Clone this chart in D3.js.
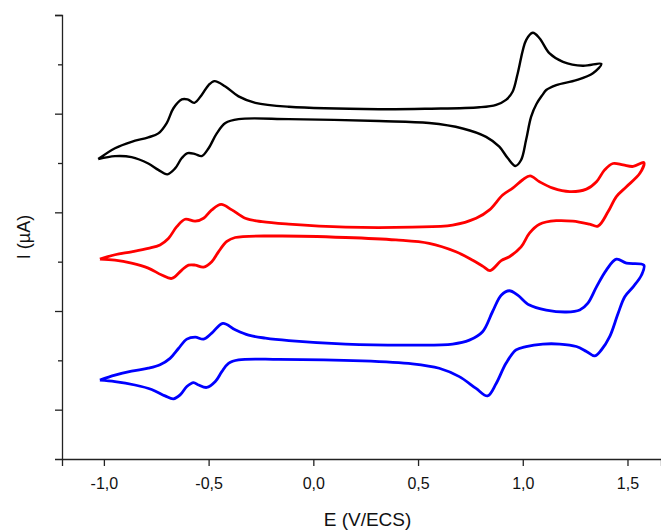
<!DOCTYPE html>
<html>
<head>
<meta charset="utf-8">
<script src="https://cdn.jsdelivr.net/npm/d3@7"></script>
<style>
  html, body { margin: 0; padding: 0; background: #fff; }
  svg { display: block; font-family: "Liberation Sans", Arial, sans-serif; }
</style>
</head>
<body>
<svg id="chart" width="661" height="530"></svg>
<script>
// ---- Data (E in V vs ECS, I in arbitrary µA units, curves offset vertically) ----
const xTicks = [-1.0, -0.5, 0.0, 0.5, 1.0, 1.5];
const yMajorTicks = [1, 3, 5, 7, 9];
const yMinorTicks = [2, 4, 6, 8];

// Black voltammogram: [E, I] loop (forward sweep then reverse)
const blackForward = [
  [-1.027,6.08],[-0.947,6.30],[-0.868,6.43],[-0.788,6.52],[-0.740,6.60],[-0.700,6.81],
  [-0.668,7.11],[-0.628,7.29],[-0.601,7.29],[-0.568,7.22],[-0.533,7.38],[-0.500,7.58],
  [-0.472,7.66],[-0.420,7.55],[-0.357,7.35],[-0.277,7.22],[-0.117,7.14],[0.314,7.09],
  [0.553,7.10],[0.793,7.13],[0.873,7.18],[0.920,7.28],[0.952,7.45],[0.976,7.82],
  [1.016,8.49],[1.048,8.64],[1.080,8.53],[1.128,8.22],[1.192,8.05],[1.287,7.97],[1.375,8.01]
];
const blackReverse = [
  [1.335,7.82],[1.256,7.68],[1.160,7.58],[1.112,7.48],[1.094,7.38],[1.066,7.20],
  [1.040,6.94],[1.016,6.47],[0.992,6.06],[0.965,5.94],[0.928,6.10],[0.888,6.33],
  [0.825,6.53],[0.713,6.70],[0.553,6.81],[0.314,6.85],[-0.117,6.89],[-0.357,6.89],
  [-0.420,6.81],[-0.461,6.60],[-0.500,6.30],[-0.533,6.14],[-0.564,6.18],[-0.600,6.20],
  [-0.628,6.10],[-0.660,5.89],[-0.697,5.77],[-0.740,5.86],[-0.788,5.99],[-0.868,6.12],
  [-0.947,6.14],[-1.027,6.08]
];

// Red voltammogram
const redForward = [
  [-1.019,4.05],[-0.947,4.14],[-0.868,4.20],[-0.788,4.27],[-0.732,4.34],[-0.692,4.47],
  [-0.652,4.71],[-0.612,4.86],[-0.564,4.82],[-0.524,4.88],[-0.485,5.05],[-0.440,5.16],
  [-0.389,5.05],[-0.325,4.88],[-0.245,4.81],[-0.117,4.76],[0.154,4.70],[0.473,4.70],
  [0.665,4.74],[0.777,4.88],[0.841,5.05],[0.904,5.35],[0.952,5.49],[1.000,5.66],
  [1.035,5.74],[1.080,5.62],[1.144,5.49],[1.224,5.42],[1.304,5.47],[1.352,5.62],
  [1.391,5.86],[1.431,5.99],[1.479,5.96],[1.527,5.93],[1.578,6.01]
];
const redReverse = [
  [1.559,5.79],[1.495,5.52],[1.447,5.32],[1.407,5.01],[1.359,4.72],[1.319,4.76],
  [1.239,4.82],[1.160,4.83],[1.080,4.76],[1.032,4.58],[0.992,4.30],[0.936,4.10],
  [0.897,4.02],[0.844,3.82],[0.812,3.90],[0.761,4.03],[0.681,4.20],[0.553,4.37],
  [0.394,4.44],[0.154,4.49],[-0.165,4.52],[-0.373,4.49],[-0.413,4.41],[-0.453,4.20],
  [-0.485,4.00],[-0.524,3.89],[-0.564,3.93],[-0.596,3.93],[-0.628,3.83],[-0.676,3.66],
  [-0.724,3.73],[-0.788,3.87],[-0.868,3.97],[-0.947,4.03],[-1.019,4.05]
];

// Blue voltammogram
const blueForward = [
  [-1.019,1.60],[-0.947,1.70],[-0.868,1.78],[-0.788,1.84],[-0.732,1.91],[-0.684,2.04],
  [-0.644,2.24],[-0.604,2.43],[-0.564,2.47],[-0.524,2.43],[-0.485,2.55],[-0.432,2.75],
  [-0.373,2.62],[-0.309,2.51],[-0.229,2.45],[-0.117,2.40],[0.154,2.33],[0.473,2.31],
  [0.665,2.33],[0.745,2.41],[0.808,2.58],[0.856,2.99],[0.897,3.32],[0.936,3.41],
  [0.976,3.32],[1.032,3.12],[1.112,3.02],[1.208,2.98],[1.272,3.02],[1.311,3.16],
  [1.352,3.49],[1.399,3.83],[1.447,4.05],[1.495,3.97],[1.578,3.93]
];
const blueReverse = [
  [1.567,3.73],[1.527,3.49],[1.487,3.29],[1.455,2.95],[1.415,2.48],[1.375,2.21],
  [1.343,2.09],[1.304,2.18],[1.256,2.28],[1.176,2.33],[1.096,2.33],[1.016,2.28],
  [0.968,2.21],[0.920,1.94],[0.873,1.53],[0.832,1.28],[0.777,1.43],[0.697,1.67],
  [0.601,1.84],[0.473,1.93],[0.234,1.99],[-0.165,2.02],[-0.357,2.01],[-0.405,1.94],
  [-0.437,1.77],[-0.468,1.57],[-0.509,1.45],[-0.548,1.50],[-0.572,1.55],[-0.604,1.47],
  [-0.636,1.30],[-0.668,1.22],[-0.708,1.28],[-0.772,1.41],[-0.852,1.50],[-0.947,1.57],
  [-1.019,1.60]
];

const series = [
  { name: "black", color: "#000000", width: 2.4, pts: blackForward.concat(blackReverse) },
  { name: "red",   color: "#ff0000", width: 2.8, pts: redForward.concat(redReverse) },
  { name: "blue",  color: "#0000ff", width: 2.8, pts: blueForward.concat(blueReverse) }
];

// ---- Layout ----
const svg = d3.select("#chart");
const mLeft = 62, mRight = 661, mTop = 15, mBottom = 459;

const x = d3.scaleLinear().domain([-1.2, 1.66]).range([mLeft, mRight]);
const y = d3.scaleLinear().domain([0, 9]).range([mBottom, mTop]);

const fmt = d => d3.format(".1f")(d).replace("−", "-").replace(".", ",");

// Curves
const line = d3.line()
  .x(d => x(d[0])).y(d => y(d[1]))
  .curve(d3.curveCatmullRom.alpha(0.5));

svg.append("g").selectAll("path")
  .data(series)
  .join("path")
  .attr("d", d => line(d.pts))
  .attr("fill", "none")
  .attr("stroke", d => d.color)
  .attr("stroke-width", d => d.width)
  .attr("stroke-linejoin", "round");

// X axis
const xAxis = d3.axisBottom(x).tickValues(xTicks).tickFormat(fmt).tickSizeOuter(0).tickSize(7).tickPadding(12);
const gx = svg.append("g").attr("transform", `translate(0,${mBottom})`).call(xAxis);
gx.select(".domain").attr("stroke", "#222").attr("stroke-width", 1.3);
gx.selectAll(".tick line").attr("stroke", "#222").attr("stroke-width", 1.3);
gx.selectAll(".tick text").attr("font-size", 16).attr("fill", "#111")
  .attr("font-family", "'Liberation Sans', Arial, sans-serif");

// Y axis (no labels)
const yAxis = d3.axisLeft(y).tickValues(yMajorTicks).tickFormat("").tickSizeOuter(0).tickSize(7);
const gy = svg.append("g").attr("transform", `translate(${mLeft},0)`).call(yAxis);
gy.select(".domain").attr("stroke", "#222").attr("stroke-width", 1.3);
gy.selectAll(".tick line").attr("stroke", "#222").attr("stroke-width", 1.3);
const yAxisMinor = d3.axisLeft(y).tickValues(yMinorTicks).tickFormat("").tickSizeOuter(0).tickSize(4);
const gy2 = svg.append("g").attr("transform", `translate(${mLeft},0)`).call(yAxisMinor);
gy2.select(".domain").remove();
gy2.selectAll(".tick line").attr("stroke", "#222").attr("stroke-width", 1.3);

// Titles
svg.append("text")
  .attr("x", (mLeft + mRight) / 2 + 6).attr("y", 526)
  .attr("text-anchor", "middle").attr("font-size", 19).attr("fill", "#111")
  .text("E (V/ECS)");

svg.append("text")
  .attr("transform", `translate(30,${(mTop + mBottom) / 2}) rotate(-90)`)
  .attr("text-anchor", "middle").attr("font-size", 18).attr("fill", "#111")
  .text("I (µA)");
</script>
</body>
</html>
